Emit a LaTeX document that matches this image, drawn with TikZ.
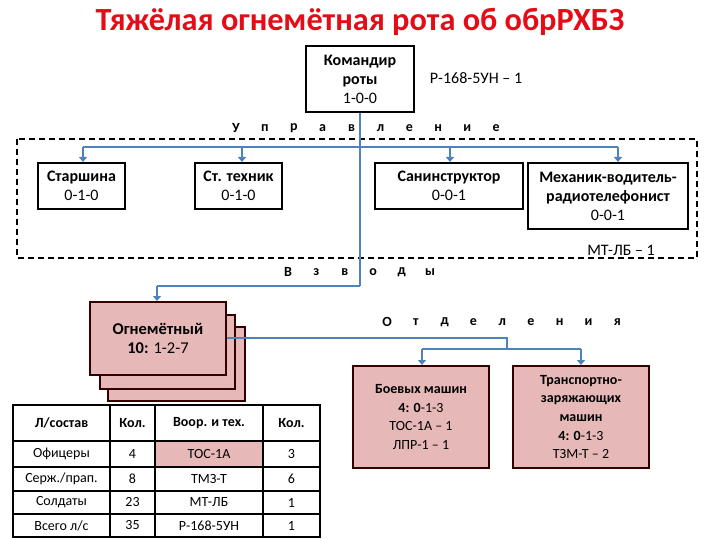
\documentclass[tikz,border=0pt]{standalone}
\usepackage{fontspec}
\setmainfont{Carlito}
\usetikzlibrary{arrows.meta}
\definecolor{linkblue}{RGB}{79,129,189}
\definecolor{pinkfill}{RGB}{230,185,184}
\definecolor{titlered}{RGB}{228,12,22}
\begin{document}
\begin{tikzpicture}[x=1pt,y=-1pt,
  box/.style={draw=black,line width=2pt,fill=white,align=center,inner sep=0pt,
    font=\fontsize{16}{19}\selectfont},
  pbox/.style={box,fill=pinkfill,draw=black!80!red,font=\fontsize{14}{18.6}\selectfont},
  link/.style={draw=linkblue,line width=2.5pt},
  arr/.style={link,-{Triangle[width=8pt,length=5pt]}},
  spaced/.style={font=\fontsize{14}{16}\selectfont\bfseries,inner sep=0pt},
  note/.style={font=\fontsize{16}{18}\selectfont,inner sep=0pt},
  cell/.style={font=\fontsize{14}{16}\selectfont,inner sep=0pt},
  hcell/.style={cell,font=\fontsize{14}{16}\selectfont\bfseries}
]
\useasboundingbox (0,0) rectangle (720,540);
\fill[white] (0,0) rectangle (720,540);

% title
\node[font=\fontsize{32.3}{36}\selectfont\bfseries,text=titlered] (title) at (360,22) {Тяжёлая огнемётная рота об обрРХБЗ};

% dashed management frame
\draw[line width=2pt,dash pattern=on 6pt off 4pt] (17,139) rectangle (697,258);

% commander
\node[box,minimum width=108pt,minimum height=66pt] (cmd) at (360,79) {\textbf{Командир}\\\textbf{роты}\\1-0-0};
\node[note] (radio) at (476,78) {Р-168-5УН – 1};

% main vertical link from commander down to the platoon level
\coordinate (turn) at (360,286);
\draw[link] (cmd.south) -- (turn);

% Управление letters
\foreach \c [count=\i] in {У,п,р,а,в,л,е,н,и,е}
  \node[spaced,fill=white,inner sep=1pt] (u\i) at ({236+28.9*(\i-1)},128) {\c};
\draw[link] (360,137) -- (360,148);

% management boxes
\node[box,minimum width=87pt,minimum height=46pt] (star) at (81.5,186) {\textbf{Старшина}\\0-1-0};
\node[box,minimum width=87pt,minimum height=46pt] (tech) at (238.5,186) {\textbf{Ст. техник}\\0-1-0};
\node[box,minimum width=148pt,minimum height=46pt] (san) at (449,186) {\textbf{Санинструктор}\\0-0-1};
\node[box,minimum width=160pt,minimum height=66pt] (mech) at (608,196) {\textbf{Механик-водитель-}\\\textbf{радиотелефонист}\\0-0-1};
\node[note] (mtlb) at (621,250) {МТ-ЛБ – 1};

\coordinate (b1) at (83,147);
\coordinate (b2) at (242,147);
\coordinate (b3) at (450,147);
\coordinate (b4) at (618,147);
\draw[link] (b1) -- (b4);
\draw[arr] (b1) -- (b1 |- star.north);
\draw[arr] (b2) -- (b2 |- tech.north);
\draw[arr] (b3) -- (b3 |- san.north);
\draw[arr] (b4) -- (b4 |- mech.north);

% Взводы letters
\foreach \c [count=\i] in {В,з,в,о,д,ы}
  \node[spaced] (v\i) at ({288+28.4*(\i-1)},272) {\c};

% platoons (stacked)
\node[pbox,minimum width=137pt,minimum height=74pt] (fire3) at (176.5,364) {};
\node[pbox,minimum width=135pt,minimum height=74pt] (fire2) at (167.5,352) {};
\node[pbox,minimum width=136pt,minimum height=73pt,font=\fontsize{16.5}{19}\selectfont] (fire) at (158,338.5) {\textbf{Огнемётный}\\\textbf{10:} 1-2-7};
\coordinate (fdrop) at (157,286);
\draw[link] (turn) -- (fdrop);
\draw[arr] (fdrop) -- (fdrop |- fire.north);

% Отделения letters
\foreach \c [count=\i] in {О,т,д,е,л,е,н,и,я}
  \node[spaced] (o\i) at ({387+28.8*(\i-1)},322) {\c};

% sections
\node[pbox,minimum width=136pt,minimum height=102pt] (bm) at (421,417) {\textbf{Боевых машин}\\\textbf{4: 0}-1-3\\ТОС-1А – 1\\ЛПР-1 – 1};
\node[pbox,minimum width=136pt,minimum height=102pt] (tzm) at (581,417) {\textbf{Транспортно-}\\\textbf{заряжающих}\\\textbf{машин}\\\textbf{4: 0}-1-3\\ТЗМ-Т – 2};

\coordinate (s0) at (507,349);
\coordinate (s1) at (422,349);
\coordinate (s2) at (581,349);
\draw[link] (fire.east |- 0,338) -- (507,338) -- (s0);
\draw[link] (s1) -- (s2);
\draw[arr] (s1) -- (s1 |- bm.north);
\draw[arr] (s2) -- (s2 |- tzm.north);

% table
\fill[pinkfill] (156,442) rectangle (262,466);
\draw[line width=1.8pt] (13,405) rectangle (320,537);
\foreach \yy in {441,467,491,514} \draw[line width=1.5pt] (13,\yy) -- (320,\yy);
\foreach \xx in {110,155,263} \draw[line width=1.5pt] (\xx,405) -- (\xx,537);

\node[hcell] (h1) at (61.5,423) {Л/состав};
\node[hcell] (h2) at (132.5,423) {Кол.};
\node[hcell] (h3) at (209,423) {Воор. и тех.};
\node[hcell] (h4) at (291.5,423) {Кол.};

\node[cell] (r1a) at (61.5,454) {Офицеры};
\node[cell] (r1b) at (132.5,454) {4};
\node[cell] (r1c) at (209,454) {ТОС-1А};
\node[cell] (r1d) at (291.5,454) {3};
\node[cell] (r2a) at (61.5,479) {Серж./прап.};
\node[cell] (r2b) at (132.5,479) {8};
\node[cell] (r2c) at (209,479) {ТМЗ-Т};
\node[cell] (r2d) at (291.5,479) {6};
\node[cell] (r3a) at (61.5,502.5) {Солдаты};
\node[cell] (r3b) at (132.5,502.5) {23};
\node[cell] (r3c) at (209,502.5) {МТ-ЛБ};
\node[cell] (r3d) at (291.5,502.5) {1};
\node[cell] (r4a) at (61.5,525.5) {Всего л/с};
\node[cell] (r4b) at (132.5,525.5) {35};
\node[cell] (r4c) at (209,525.5) {Р-168-5УН};
\node[cell] (r4d) at (291.5,525.5) {1};
\end{tikzpicture}
\end{document}
